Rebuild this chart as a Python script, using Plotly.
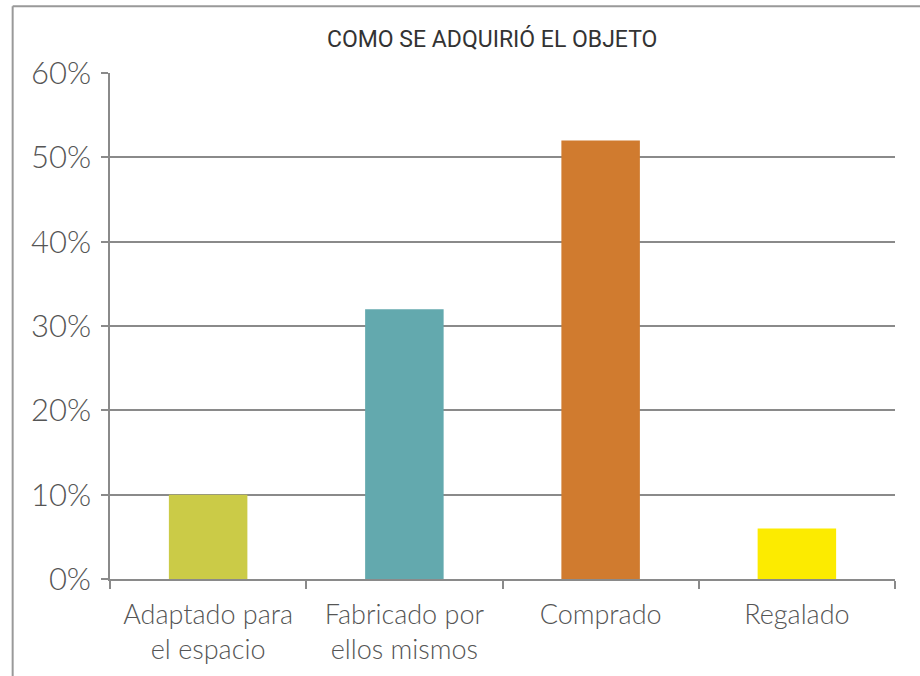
import plotly.graph_objects as go

categories = ["Adaptado para<br>el espacio", "Fabricado por<br>ellos mismos", "Comprado", "Regalado"]
values = [10, 32, 52, 6]
colors = ["#CBCB47", "#63A9AE", "#D07B2F", "#FCEB00"]
y_ticks = [0, 10, 20, 30, 40, 50, 60]
y_labels = ["0%", "10%", "20%", "30%", "40%", "50%", "60%"]

fig = go.Figure(go.Bar(x=categories, y=values, marker=dict(color=colors, line=dict(width=0)),
                       width=0.4))

fig.update_layout(
    width=920, height=676,
    paper_bgcolor="white", plot_bgcolor="white",
    margin=dict(l=110, r=25, t=73, b=97),
    title=dict(text="COMO SE ADQUIRIÓ EL OBJETO", x=0.535, xanchor="center", y=0.942, yanchor="middle",
               font=dict(family="Roboto", size=23, color="#333333")),
    showlegend=False,
    font=dict(family="Lato", color="#444444"),
    shapes=[
        dict(type="line", xref="paper", yref="paper", x0=-0.124, x1=1.05, y0=1.132, y1=1.132,
             line=dict(color="#999999", width=2)),
        dict(type="line", xref="paper", yref="paper", x0=-0.124, x1=-0.124, y0=1.132, y1=-0.2,
             line=dict(color="#999999", width=2)),
    ],
)
fig.update_yaxes(range=[0, 60], tickvals=y_ticks, ticktext=y_labels, showgrid=True,
                 gridcolor="#8a8a8a", gridwidth=1.5, showline=True, linecolor="#8a8a8a", linewidth=1.5,
                 ticks="outside", ticklen=7, tickcolor="#8a8a8a", tickwidth=1.5, ticklabelstandoff=4,
                 tickfont=dict(family="Lato", size=31, color="#555555", weight=300), zeroline=False)
fig.update_xaxes(showline=True, linecolor="#8a8a8a", linewidth=1.5, ticks="outside", tickson="boundaries",
                 ticklen=8, tickcolor="#8a8a8a", tickwidth=1.5, ticklabelstandoff=11,
                 tickfont=dict(family="Lato", size=27, color="#555555", weight=300))

fig.write_html("out.html", post_script="document.body.style.margin='0';",
               config={"displayModeBar": False})
